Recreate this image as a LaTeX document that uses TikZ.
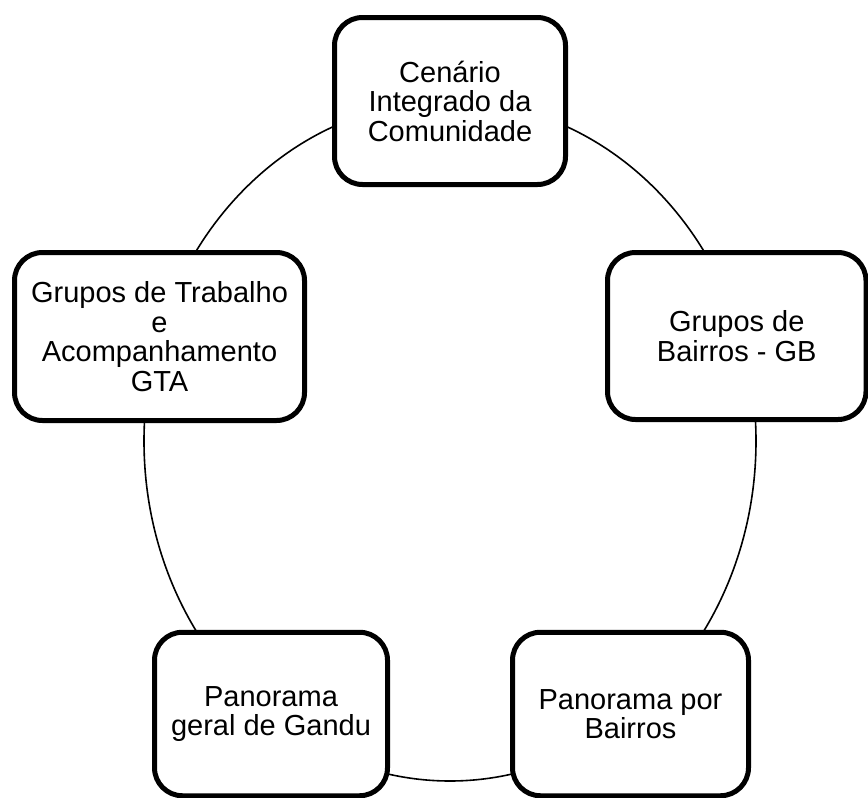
\documentclass[tikz,border=0pt]{standalone}
\usepackage{fontspec}
\setmainfont{Liberation Sans}
\begin{document}
\begin{tikzpicture}[x=1pt,y=-1pt,
  cyclebox/.style={draw=black, line width=5pt, fill=white, rounded corners=28pt,
    align=center, inner sep=0pt, font=\fontsize{29}{29.5}\selectfont},
  cycleline/.style={draw=black, line width=1.6pt}]
\useasboundingbox (0,0) rectangle (868,798);
\fill[white] (0,0) rectangle (868,798);
\coordinate (c) at (450,441);
\draw[cycleline] (c) ellipse [x radius=306pt, y radius=340pt];
\node[cyclebox, minimum width=231pt, minimum height=167pt] (top) at (450,101)
  {Cenário\\Integrado da\\Comunidade};
\node[cyclebox, minimum width=258.5pt, minimum height=167pt] (right) at (736.75,336)
  {Grupos de\\Bairros - GB};
\node[cyclebox, minimum width=236pt, minimum height=163.5pt] (br) at (630.5,714)
  {Panorama por\\Bairros};
\node[cyclebox, minimum width=233pt, minimum height=163.5pt] (bl) at (271,714)
  {Panorama\\geral de Gandu};
\node[cyclebox, minimum width=290pt, minimum height=168pt] (left) at (159.5,336.5)
  {Grupos de Trabalho\\e\\Acompanhamento\\GTA};
\end{tikzpicture}
\end{document}
